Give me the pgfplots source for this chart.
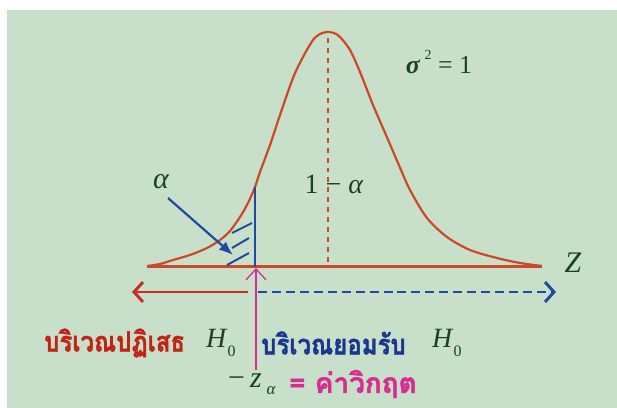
\documentclass[border=0pt]{standalone}
\usepackage{pgfplots}
\pgfplotsset{compat=1.18}
\usepackage{fontspec}
\setmainfont{Liberation Serif}
\newfontfamily\thaifont[Script=Thai,BoldFeatures={FakeBold=1.5}]{Loma}
\usetikzlibrary{arrows.meta}
\definecolor{bg}{RGB}{200,224,202}
\definecolor{curvered}{RGB}{205,72,40}
\definecolor{arrred}{RGB}{200,45,30}
\definecolor{zblue}{RGB}{30,75,160}
\definecolor{thblue}{RGB}{25,55,145}
\definecolor{thred}{RGB}{195,35,20}
\definecolor{mag}{RGB}{215,45,145}
\definecolor{dkgreen}{RGB}{25,65,35}
\begin{document}
\begin{tikzpicture}
\begin{axis}[hide axis, scale only axis, width=617bp, height=408bp,
  xmin=0, xmax=617, ymin=0, ymax=408, y dir=reverse, clip=false]
\fill[white] (axis cs:0,0) rectangle (axis cs:617,408);
\fill[bg] (axis cs:7,10) rectangle (axis cs:617,408);
% normal curve
\addplot[curvered, line width=2.2pt, smooth, tension=0.5] coordinates {
(147,266)(160,264)(173,260)(190,255)(207,248)(220,240)(230,231)(240,217)
(248,203)(255,187)(260,172)(270,145)(280,115)(293,78)(303,57)(313,40)
(320,34)(327,32)(334,33)(340,37)(350,50)(360,72)(373,105)(386,135)(398,163)
(410,190)(427,218)(447,237)(470,250)(497,258)(520,263)(542,266)};
% baseline
\addplot[curvered, line width=2.6pt] coordinates {(147,266.5)(542,266.5)};
% mean dashed
\addplot[curvered, line width=2pt, dash pattern=on 5pt off 5pt] coordinates {(328,38)(328,262)};
% critical line
\addplot[zblue, line width=1.8pt] coordinates {(255,187)(255,267)};
% hatch
\addplot[zblue, line width=2pt] coordinates {(232,233)(252,223)};
\addplot[zblue, line width=2pt] coordinates {(232,248)(249,238)};
\addplot[zblue, line width=2pt] coordinates {(227,265)(249,253)};
% alpha arrow
\addplot[zblue, line width=2.2pt, -{Latex[length=14pt,width=11pt]}] coordinates {(168,198)(233,255)};
% region arrows
\addplot[arrred, line width=3pt, -{Straight Barb[length=9pt,width=20pt]}] coordinates {(248,292)(132,292)};
\addplot[zblue, line width=3pt, dash pattern=on 9pt off 5pt, -{Straight Barb[length=9pt,width=20pt]}] coordinates {(258,292)(556,292)};
\addplot[mag, line width=1.3pt, -{Straight Barb[length=11pt,width=20pt]}] coordinates {(256,370)(256,268)};
% labels
\node[text=dkgreen, font=\fontsize{30}{30}\selectfont\itshape] at (axis cs:161,182) {α};
\node[text=dkgreen, font=\fontsize{28}{28}\selectfont] at (axis cs:334,184) {1 − \textit{α}};
\node[text=dkgreen, font=\fontsize{26}{26}\selectfont] at (axis cs:439,62) {\textit{\textbf{σ}}\,\raisebox{0.55em}{\fontsize{14}{14}\selectfont 2} = 1};
\node[text=dkgreen, font=\fontsize{30}{30}\selectfont\itshape] at (axis cs:573,263) {Z};
\node[text=thred, font=\fontsize{28}{28}\selectfont\thaifont\bfseries, anchor=west, inner sep=0pt] at (axis cs:44,343) {\scalebox{0.86}[1]{บริเวณปฏิเสธ}};
\node[text=dkgreen, font=\fontsize{28}{28}\selectfont, anchor=west, inner sep=0pt] at (axis cs:206,343) {\textit{H}\raisebox{-0.3em}{\fontsize{16}{16}\selectfont 0}};
\node[text=thblue, font=\fontsize{28}{28}\selectfont\thaifont\bfseries, anchor=west, inner sep=0pt] at (axis cs:261,343) {\scalebox{0.86}[1]{บริเวณยอมรับ}};
\node[text=dkgreen, font=\fontsize{28}{28}\selectfont, anchor=west, inner sep=0pt] at (axis cs:432,343) {\textit{H}\raisebox{-0.3em}{\fontsize{16}{16}\selectfont 0}};
\node[text=dkgreen, font=\fontsize{30}{30}\selectfont, anchor=west, inner sep=0pt] at (axis cs:228,384) {−\,\textit{z}\,\raisebox{-0.25em}{\fontsize{17}{17}\selectfont\itshape α}};
\node[text=mag, font=\fontsize{28}{28}\selectfont\thaifont\bfseries, anchor=west, inner sep=0pt] at (axis cs:289,384) {= ค่าวิกฤต};
\end{axis}
\end{tikzpicture}
\end{document}
